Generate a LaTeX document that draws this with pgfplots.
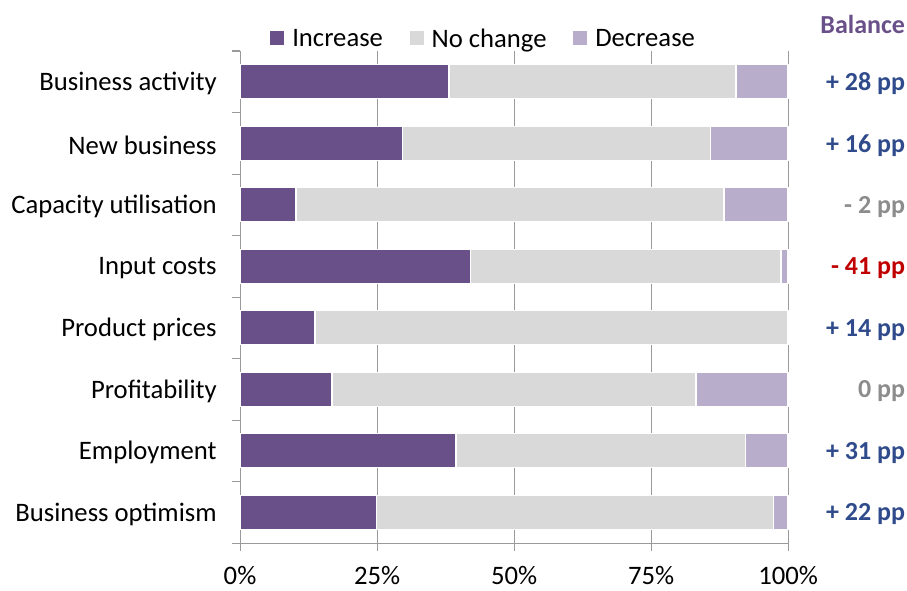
\documentclass[border=0pt]{standalone}
\usepackage{fontspec}
\setmainfont{Carlito}
\usepackage{pgfplots}
\pgfplotsset{compat=1.18}
\definecolor{inc}{HTML}{6A5088}
\definecolor{noc}{HTML}{D9D9D9}
\definecolor{dec}{HTML}{B8AECB}
\definecolor{bblue}{HTML}{2F4B8C}
\definecolor{bgray}{HTML}{8C8C8C}
\definecolor{bred}{HTML}{C00000}
\definecolor{bpurple}{HTML}{6A5088}
\definecolor{axgray}{HTML}{9A9A9A}
\tikzset{bal/.style={anchor=east, yshift=-1.5pt, font=\fontsize{19.5}{23}\selectfont\bfseries}}
\begin{document}
\begin{tikzpicture}
\begin{axis}[
  xbar stacked,
  width=411pt, height=369pt, scale only axis,
  xmin=0, xmax=100, ymin=-0.5, ymax=7.5, y dir=reverse,
  bar width=25.5pt,
  clip=false,
  axis x line*=bottom, axis y line*=left,
  axis line style={axgray, line width=0.8pt},
  xtick={0,25,50,75,100},
  xticklabels={0\%,25\%,50\%,75\%,100\%},
  xmajorgrids, grid style={axgray, line width=0.8pt},
  tick align=outside,
  major tick length=6pt,
  tick style={axgray, line width=0.8pt},
  ytick={-0.5,0.5,...,7.5},
  yticklabels={},
  extra y ticks={0,1,2,3,4,5,6,7},
  extra y tick labels={Business activity,New business,Capacity utilisation,Input costs,Product prices,Profitability,Employment,Business optimism},
  extra y tick style={major tick length=0pt, tick label style={xshift=-14pt, yshift=-1.5pt}},
  tick label style={font=\fontsize{20}{23}\selectfont},
  xticklabel style={yshift=-8pt},
  legend style={at={(0.445,0.998)}, anchor=south, draw=none, fill=none,
    legend columns=3, font=\fontsize{20}{23}\selectfont,
    /tikz/every even column/.append style={column sep=18pt},
    inner sep=0pt},
  legend image code/.code={\fill[#1, draw=none] (0pt,-5pt) rectangle (10.5pt,5.5pt); \path (14pt,0pt);},
]
\addplot[fill=inc, draw=white, line width=1pt] coordinates {(38.1,0) (29.7,1) (10.2,2) (42.0,3) (13.7,4) (16.8,5) (39.4,6) (24.9,7)};
\addplot[fill=noc, draw=white, line width=1pt] coordinates {(52.4,0) (56.1,1) (78.1,2) (56.7,3) (86.3,4) (66.4,5) (52.8,6) (72.4,7)};
\addplot[fill=dec, draw=white, line width=1pt] coordinates {(9.5,0) (14.2,1) (11.7,2) (1.3,3) (0,4) (16.8,5) (7.8,6) (2.7,7)};
\legend{Increase, No change, Decrease}
\node[bal, text=bpurple] at (axis cs:122.2,-0.97) {Balance};
\node[bal, text=bblue] at (axis cs:122.2,0) {+ 28 pp};
\node[bal, text=bblue] at (axis cs:122.2,1) {+ 16 pp};
\node[bal, text=bgray] at (axis cs:122.2,2) {- 2 pp};
\node[bal, text=bred] at (axis cs:122.2,3) {- 41 pp};
\node[bal, text=bblue] at (axis cs:122.2,4) {+ 14 pp};
\node[bal, text=bgray] at (axis cs:122.2,5) {0 pp};
\node[bal, text=bblue] at (axis cs:122.2,6) {+ 31 pp};
\node[bal, text=bblue] at (axis cs:122.2,7) {+ 22 pp};
\coordinate (bbA) at (rel axis cs:-0.438,-0.0955);
\coordinate (bbB) at (rel axis cs:1.217,1.1037);
\end{axis}
\pgfresetboundingbox
\path (bbA) rectangle (bbB);
\end{tikzpicture}
\end{document}
